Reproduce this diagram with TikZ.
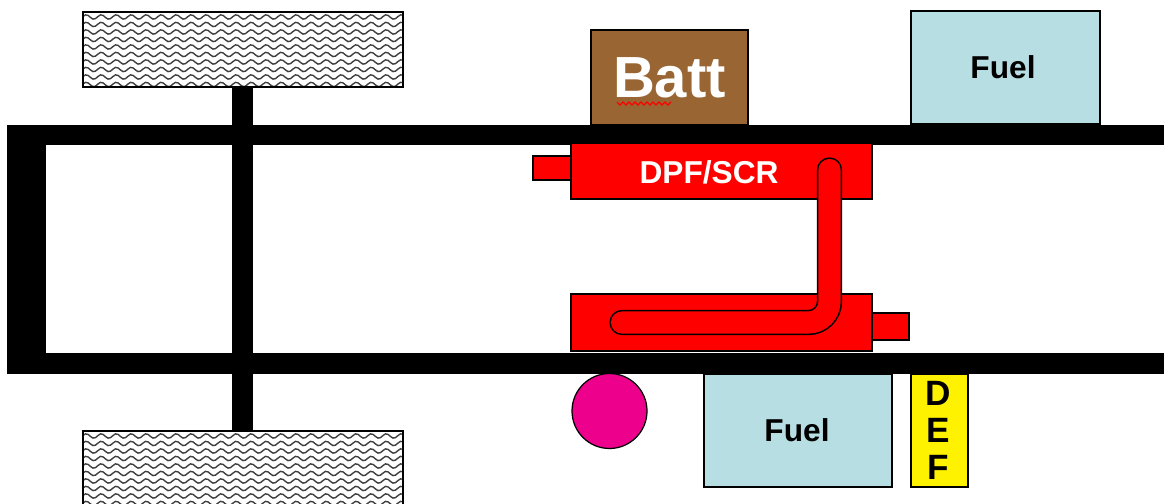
\documentclass[tikz,border=0pt]{standalone}
\usepackage{fontspec}
\setmainfont{Liberation Sans}
\definecolor{battbrown}{HTML}{996633}
\definecolor{fuelblue}{HTML}{B7DEE3}
\tikzset{
  part/.style={draw=black, line width=0.35pt},
  label/.style={font=\bfseries\fontsize{9}{9}\selectfont, inner sep=0pt},
  wave/.style={black!75, line width=0.4pt}
}
\begin{document}
\begin{tikzpicture}[x=0.01cm,y=-0.01cm]
  \clip (0,0) rectangle (1164,504);
  \fill[white] (0,0) rectangle (1164,504);

  % Tires
  \foreach \y in {12,431} {
    \begin{scope}
      \clip (83,\y) rectangle (403,\y+75);
      \foreach \r in {0,1,...,9} {
        \draw[wave] plot[domain=83:403,samples=129,smooth] (\x,{\y+5+\r*7.5+2.2*sin(24*\x)});
      }
    \end{scope}
    \draw[part] (83,\y) rectangle (403,\y+75);
  }

  % Axle
  \fill[black] (232,88) rectangle (253,431);

  % Frame
  \fill[black] (7,125) rectangle (1164,145);
  \fill[black] (7,353) rectangle (1164,374);
  \fill[black] (7,125) rectangle (46,374);

  % Battery and top fuel tank
  \draw[part, fill=battbrown] (591,30) rectangle (748,125);
  \node[label, white, font=\bfseries\fontsize{16.5}{16.5}\selectfont] (batt) at (669.5,78) {Batt};
  \draw[red, line width=0.35pt] (617,102)
    \foreach \x in {0,1,...,17} { -- ++(3,{3*(1-2*mod(\x,2))}) };
  \draw[part, fill=fuelblue] (911,11) rectangle (1100,124);
  \node[label] (fueltop) at (1003,67) {Fuel};

  % DPF/SCR with its stub
  \draw[part, fill=red] (533,156) rectangle (571,180);
  \draw[part, fill=red] (571,143) rectangle (872,199);
  \node[label, white] (dpf) at (709,172) {DPF/SCR};

  % Lower muffler with its stub
  \draw[part, fill=red] (872,313) rectangle (909,340);
  \draw[part, fill=red] (571,294) rectangle (872,351);

  % Pipe
  \draw[black, line width=7.2pt, line cap=round, rounded corners=6pt] (829.5,170) -- (829.5,322.5) -- (622,322.5);
  \draw[red, line width=6.3pt, line cap=round, rounded corners=6pt] (829.5,170) -- (829.5,322.5) -- (622,322.5);

  % Pump
  \draw[part, fill=magenta] (609.5,411) circle (37.5);

  % Bottom fuel tank and DEF tank
  \draw[part, fill=fuelblue] (704,374) rectangle (892,487);
  \node[label] (fuelbot) at (797,430) {Fuel};
  \draw[part, fill=yellow] (911,374) rectangle (968,487);
  \node[label, font=\bfseries\fontsize{10}{10}\selectfont] (defd) at (938.5,393) {D};
  \node[label, font=\bfseries\fontsize{10}{10}\selectfont] (defe) at (938.5,430) {E};
  \node[label, font=\bfseries\fontsize{10}{10}\selectfont] (deff) at (938.5,467) {F};
\end{tikzpicture}
\end{document}
